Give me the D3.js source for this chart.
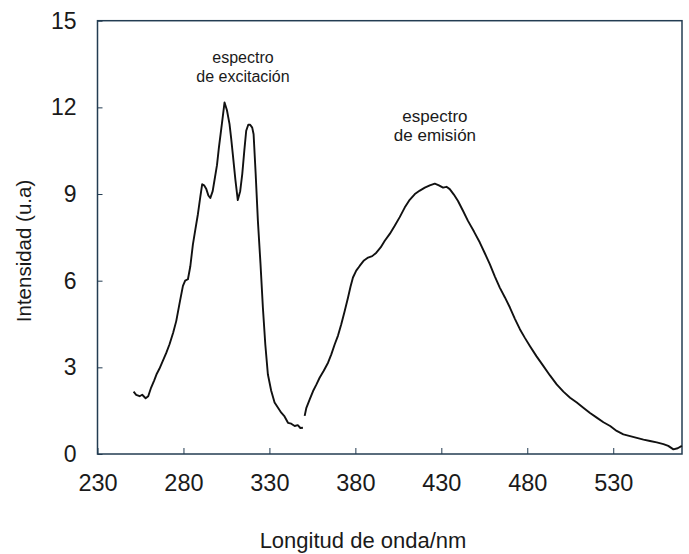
<!DOCTYPE html>
<html><head><meta charset="utf-8">
<script src="https://cdn.jsdelivr.net/npm/d3@7"></script>
<style>
html,body{margin:0;padding:0;background:#fff;}
text{font-family:"Liberation Sans",Arial,sans-serif;}
</style></head>
<body><svg id="chart" width="689" height="554"></svg>
<script>
// Tick labels
const xTicks = [230, 280, 330, 380, 430, 480, 530];
const yTicks = [0, 3, 6, 9, 12, 15];

// Excitation spectrum: wavelength (nm) and intensity (u.a)
const excWavelength = [251, 252.5, 254.5, 256, 258, 259.5, 261.2, 263, 264.5, 266, 268, 270, 271.9, 274, 275.8, 278, 279.7, 281, 282.6, 284, 285.5, 287, 288.4, 289.8, 290.9, 292, 293.3, 294.5, 295.6, 297, 298, 299.5, 300.6, 302.3, 303.9, 305.3, 306.8, 307.8, 308.7, 310.2, 311.6, 313, 314.2, 315.4, 316.5, 317.7, 318.8, 320, 320.8, 322, 323.3, 324.8, 326.2, 327.6, 329.1, 331, 333, 335, 336.9, 338.8, 340.8, 342.7, 344.7, 346.5, 348, 349.5];
const excIntensity = [2.16, 2.05, 2.0, 2.05, 1.93, 2.0, 2.3, 2.55, 2.78, 2.95, 3.22, 3.5, 3.8, 4.2, 4.6, 5.3, 5.82, 6.0, 6.05, 6.5, 7.26, 7.8, 8.3, 8.9, 9.34, 9.3, 9.17, 8.95, 8.86, 9.1, 9.46, 10.0, 10.6, 11.4, 12.17, 11.9, 11.42, 10.9, 10.38, 9.5, 8.79, 9.1, 9.69, 10.5, 11.19, 11.4, 11.4, 11.3, 11.07, 9.7, 8.07, 6.6, 5.07, 3.8, 2.76, 2.2, 1.78, 1.6, 1.43, 1.3, 1.08, 1.05, 0.97, 1.0, 0.9, 0.91];

// Emission spectrum: wavelength (nm) and intensity (u.a)
const emiWavelength = [350.5, 351.5, 353.5, 355.4, 357.3, 359.2, 361.6, 364.1, 366, 368, 369.9, 371.8, 373.8, 375.7, 377.2, 378.6, 380.5, 382.5, 385, 387.4, 389.8, 392.2, 394.7, 397.1, 400, 402.9, 405.8, 408.7, 411.6, 414.6, 417.5, 420.4, 423.3, 426.2, 428.6, 431, 433, 434.9, 437.3, 439.7, 442.6, 445.5, 449, 452.4, 455.3, 458.2, 461.1, 464, 467, 469.9, 472.8, 475.7, 478.6, 481.5, 485.4, 489.3, 493.2, 497.1, 501, 504.9, 508.8, 512.6, 516.5, 520.4, 524.3, 528.2, 532, 535.9, 539.8, 543.7, 547.6, 551.4, 555.3, 559.2, 562, 565, 567.5, 569.9];
const emiIntensity = [1.32, 1.6, 1.9, 2.18, 2.4, 2.64, 2.88, 3.16, 3.45, 3.8, 4.1, 4.49, 4.95, 5.41, 5.8, 6.11, 6.35, 6.51, 6.7, 6.8, 6.85, 6.97, 7.15, 7.38, 7.62, 7.9, 8.2, 8.53, 8.8, 9.0, 9.12, 9.22, 9.3, 9.36, 9.3, 9.22, 9.25, 9.17, 8.98, 8.76, 8.42, 8.07, 7.7, 7.32, 6.95, 6.57, 6.15, 5.76, 5.42, 5.07, 4.68, 4.32, 4.02, 3.74, 3.38, 3.05, 2.72, 2.41, 2.16, 1.95, 1.78, 1.6, 1.42, 1.26, 1.1, 0.97, 0.8, 0.68, 0.62, 0.56, 0.5, 0.45, 0.4, 0.34, 0.28, 0.16, 0.2, 0.28];

// Annotation text and anchor (wavelength, intensity)
const annotations = [
  {lines: ["espectro", "de excitación"], x: 314.6, y: 13.52, size: 16},
  {lines: ["espectro", "de emisión"], x: 426.3, y: 11.49, size: 17}
];

const svg = d3.select("#chart");
const x = d3.scaleLinear().domain([230, 570]).range([97.5, 682]);
const y = d3.scaleLinear().domain([0, 15]).range([454, 20.7]);
const axisColor = "#233c52";
const textColor = "#1a1a1a";

// frame
svg.append("rect")
  .attr("x", x(230)).attr("y", y(15))
  .attr("width", x(570) - x(230)).attr("height", y(0) - y(15))
  .attr("fill", "none").attr("stroke", axisColor).attr("stroke-width", 1.5);

const xAxis = d3.axisBottom(x).tickValues(xTicks).tickSize(-6).tickPadding(20).tickFormat(d3.format("d"));
const gx = svg.append("g").attr("transform", `translate(0,${y(0)})`).call(xAxis);
gx.select(".domain").remove();
gx.selectAll(".tick line").attr("stroke", axisColor);
gx.selectAll(".tick text").attr("font-size", 23.5).attr("fill", textColor).attr("font-family", "Liberation Sans, Arial, sans-serif");

const yAxis = d3.axisLeft(y).tickValues(yTicks).tickSize(-5).tickPadding(21).tickFormat(d3.format("d"));
const gy = svg.append("g").attr("transform", `translate(${x(230)},0)`).call(yAxis);
gy.select(".domain").remove();
gy.selectAll(".tick line").attr("stroke", axisColor);
gy.selectAll(".tick text").attr("font-size", 23).attr("fill", textColor).attr("font-family", "Liberation Sans, Arial, sans-serif");

const line = d3.line().x(d => x(d[0])).y(d => y(d[1]));
const exc = excWavelength.map((w, i) => [w, excIntensity[i]]);
const emi = emiWavelength.map((w, i) => [w, emiIntensity[i]]);
svg.append("path").datum(exc).attr("d", line).attr("fill", "none").attr("stroke", "#111").attr("stroke-width", 1.9).attr("stroke-linejoin", "round");
svg.append("path").datum(emi).attr("d", line).attr("fill", "none").attr("stroke", "#111").attr("stroke-width", 1.9).attr("stroke-linejoin", "round");

annotations.forEach(a => {
  const t = svg.append("text").attr("x", x(a.x)).attr("y", y(a.y))
    .attr("text-anchor", "middle").attr("font-size", a.size).attr("fill", textColor);
  a.lines.forEach((l, i) => t.append("tspan").attr("x", x(a.x)).attr("dy", i === 0 ? 0 : 19).text(l));
});

svg.append("text").attr("x", 363).attr("y", 548).attr("text-anchor", "middle")
  .attr("font-size", 22).attr("fill", textColor).text("Longitud de onda/nm");
svg.append("text").attr("transform", `translate(31,251) rotate(-90)`)
  .attr("text-anchor", "middle").attr("font-size", 20.5).attr("fill", textColor).text("Intensidad (u.a)");
</script></body></html>
